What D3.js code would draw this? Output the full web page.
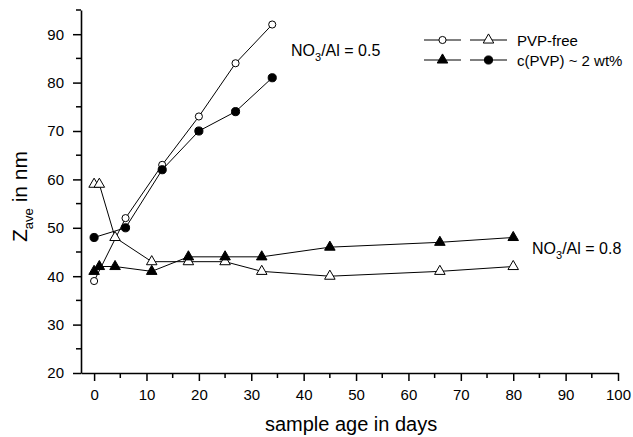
<!DOCTYPE html>
<html>
<head>
<meta charset="utf-8">
<script src="https://cdn.jsdelivr.net/npm/d3@7"></script>
<style>
  body { margin: 0; background: #fff; }
  svg { font-family: "Liberation Sans", Arial, sans-serif; }
  .axis path, .axis line { stroke: #000; }
  .axis text { font-size: 15px; fill: #000; }
</style>
</head>
<body>
<svg id="chart" width="633" height="437"></svg>
<script>
// sample age in days
const daysA = [0, 6, 13, 20, 27, 34];
const freeA = [39, 52, 63, 73, 84, 92];   // PVP-free, NO3/Al = 0.5 (open circles)
const pvpA = [48, 50, 62, 70, 74, 81];    // c(PVP) ~ 2 wt%, NO3/Al = 0.5 (filled circles)

const daysB = [0, 1, 4, 11, 18, 25, 32, 45, 66, 80];
const freeB = [59, 59, 48, 43, 43, 43, 41, 40, 41, 42]; // PVP-free, NO3/Al = 0.8 (open triangles)
const pvpB = [41, 42, 42, 41, 44, 44, 44, 46, 47, 48];  // c(PVP) ~ 2 wt%, NO3/Al = 0.8 (filled triangles)

const xTicks = [0, 10, 20, 30, 40, 50, 60, 70, 80, 90, 100];
const yTicks = [20, 30, 40, 50, 60, 70, 80, 90];

const svg = d3.select("#chart");
const margin = {top: 10, right: 15, bottom: 64, left: 81};
const width = 633 - margin.left - margin.right;
const height = 437 - margin.top - margin.bottom;

const x = d3.scaleLinear().domain([-2.5, 100]).range([margin.left, margin.left + width]);
const y = d3.scaleLinear().domain([20, 95]).range([margin.top + height, margin.top]);

// minor ticks
const xMinor = d3.range(5, 100, 10);
const yMinor = d3.range(25, 96, 10);

const xAxisG = svg.append("g")
    .attr("class", "axis")
    .attr("transform", `translate(0,${margin.top + height})`)
    .call(d3.axisBottom(x).tickValues(xTicks).tickSize(8).tickSizeOuter(0).tickPadding(8));
xAxisG.select(".domain").attr("stroke-width", 1.6);
xAxisG.selectAll(".tick line").attr("stroke-width", 1.5);
xAxisG.selectAll(".minor").data(xMinor).join("line")
    .attr("x1", d => x(d)).attr("x2", d => x(d))
    .attr("y1", 0).attr("y2", 5)
    .attr("stroke", "#000").attr("stroke-width", 1.5);

const yAxisG = svg.append("g")
    .attr("class", "axis")
    .attr("transform", `translate(${margin.left},0)`)
    .call(d3.axisLeft(y).tickValues(yTicks).tickSize(8).tickSizeOuter(0).tickPadding(9));
yAxisG.select(".domain").attr("stroke-width", 1.6);
yAxisG.selectAll(".tick line").attr("stroke-width", 1.5);
yAxisG.selectAll(".minor").data(yMinor).join("line")
    .attr("y1", d => y(d)).attr("y2", d => y(d))
    .attr("x1", 0).attr("x2", -5)
    .attr("stroke", "#000").attr("stroke-width", 1.5);

// axis titles
svg.append("text")
    .attr("x", x(50) - 5)
    .attr("y", 431)
    .attr("text-anchor", "middle")
    .attr("font-size", "20px")
    .text("sample age in days");

const yTitle = svg.append("text")
    .attr("transform", `translate(27,${(y(20) + y(95)) / 2 + 5}) rotate(-90)`)
    .attr("text-anchor", "middle")
    .attr("font-size", "21px");
yTitle.append("tspan").text("Z");
yTitle.append("tspan").attr("font-size", "13px").attr("dy", 6).text("ave");
yTitle.append("tspan").attr("dy", -6).text(" in nm");

// series
const series = [
  {days: daysA, vals: freeA, shape: d3.symbolCircle, size: 40, fill: "#fff"},
  {days: daysA, vals: pvpA, shape: d3.symbolCircle, size: 52, fill: "#000"},
  {days: daysB, vals: freeB, shape: d3.symbolTriangle, size: 48, fill: "#fff"},
  {days: daysB, vals: pvpB, shape: d3.symbolTriangle, size: 48, fill: "#000"}
];

const line = d3.line()
    .x(d => x(d[0]))
    .y(d => y(d[1]));

series.forEach(s => {
  const pts = s.days.map((d, i) => [d, s.vals[i]]);
  svg.append("path")
      .datum(pts)
      .attr("fill", "none")
      .attr("stroke", "#000")
      .attr("stroke-width", 1)
      .attr("d", line);
});

series.forEach(s => {
  const pts = s.days.map((d, i) => [d, s.vals[i]]);
  svg.append("g").selectAll("path")
      .data(pts)
      .join("path")
      .attr("transform", d => `translate(${x(d[0])},${y(d[1])})`)
      .attr("d", d3.symbol().type(s.shape).size(s.size))
      .attr("fill", s.fill)
      .attr("stroke", "#000")
      .attr("stroke-width", 1);
});

// legend
const legendRows = [
  {label: "PVP-free", items: [series[0], series[2]], y: 40},
  {label: "c(PVP) ~ 2 wt%", items: [series[3], series[1]], y: 60}
];
const legend = svg.append("g");
legendRows.forEach(r => {
  r.items.forEach((s, i) => {
    const x0 = 424 + i * 46;
    legend.append("line")
        .attr("x1", x0).attr("x2", x0 + 37)
        .attr("y1", r.y).attr("y2", r.y)
        .attr("stroke", "#000").attr("stroke-width", 1);
    legend.append("path")
        .attr("transform", `translate(${x0 + 18.5},${r.y})`)
        .attr("d", d3.symbol().type(s.shape).size(s.size))
        .attr("fill", s.fill)
        .attr("stroke", "#000")
        .attr("stroke-width", 1);
  });
  legend.append("text")
      .attr("x", 517)
      .attr("y", r.y + 5.5)
      .attr("font-size", "15px")
      .text(r.label);
});

// ratio annotations
function ratioLabel(px, py, val) {
  const t = svg.append("text").attr("x", px).attr("y", py).attr("font-size", "16px");
  t.append("tspan").text("NO");
  t.append("tspan").attr("font-size", "11px").attr("dy", 5).text("3");
  t.append("tspan").attr("dy", -5).text("/Al = " + val);
}
ratioLabel(291, 56, "0.5");
ratioLabel(532, 254, "0.8");
</script>
</body>
</html>
